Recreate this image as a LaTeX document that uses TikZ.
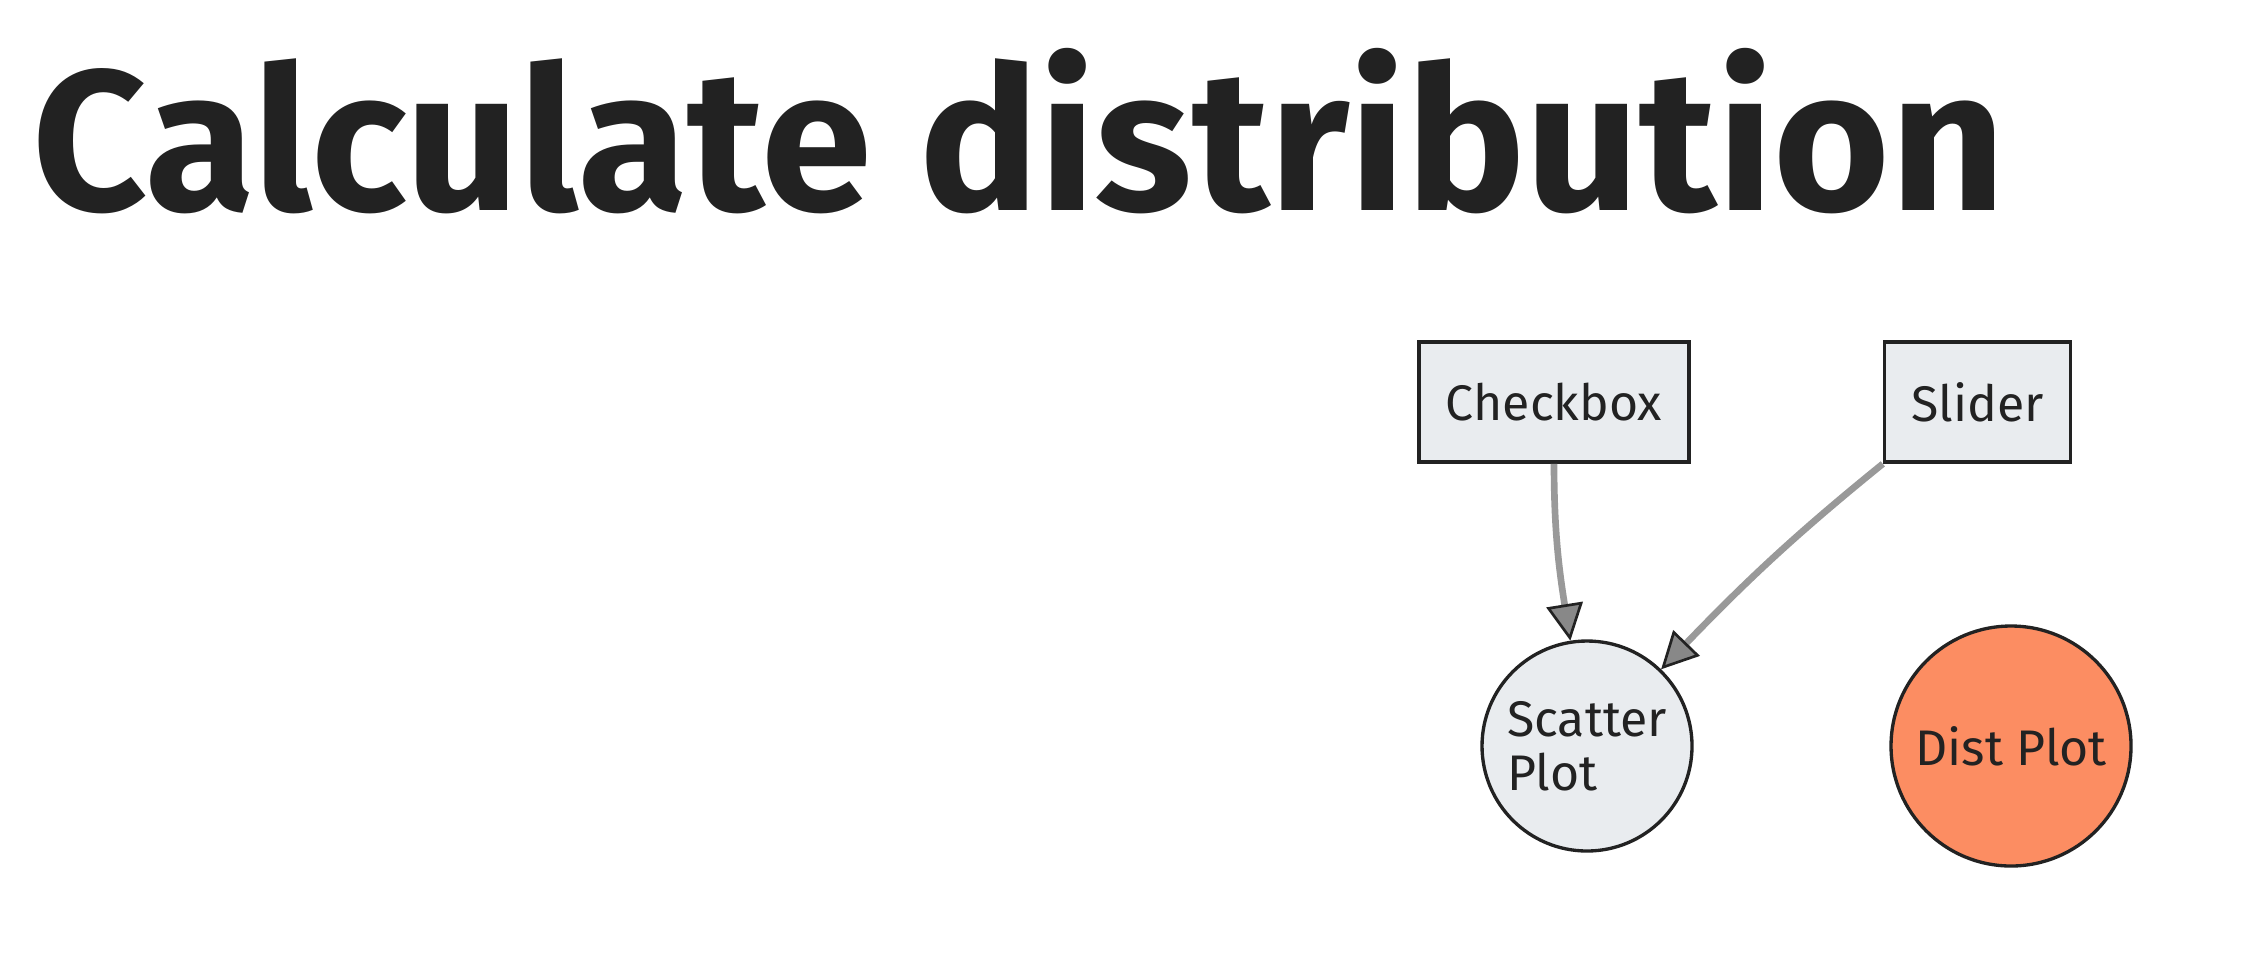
\documentclass[tikz,border=0pt]{standalone}
\usepackage{fontspec}
\setmainfont{Fira Sans}
\usepackage{tikz}
\usetikzlibrary{arrows.meta}
\definecolor{tinta}{HTML}{222222}
\definecolor{fondoNodo}{HTML}{E9ECEF}
\definecolor{coral}{HTML}{FC8D62}
\definecolor{lineaGris}{HTML}{999999}
\definecolor{puntaGris}{HTML}{888888}

\begin{document}
\begin{tikzpicture}[x=0.3pt, y=0.3pt,
    every node/.style={font=\fontsize{15}{16.2}\selectfont, text=tinta},
    caja/.style={draw=tinta, line width=1.1pt, fill=fondoNodo,
      inner xsep=8pt, minimum height=36pt},
    bola/.style={circle, draw=tinta, line width=1pt, inner sep=0pt},
    enlace/.style={lineaGris, line width=2pt,
      -{Triangle[length=11pt, width=11pt, color=tinta, fill=puntaGris, line width=0.8pt]}}]

  \def\XA{1554}    % Checkbox
  \def\XB{1977.5}  % Slider
  \def\XC{1587}    % Scatter Plot
  \def\XD{2011}    % Dist Plot

  \useasboundingbox (0,0) rectangle (2268,-968);

  % ── Título ────────────────────────────────────────────────
  \node[anchor=base west, inner sep=0pt,
        font=\fontsize{60}{64}\selectfont\bfseries] (titulo)
    at (32,-210) {Calculate distribution};

  % ── Entradas ──────────────────────────────────────────────
  \node[caja] (checkbox) at (\XA,-402) {Checkbox};
  \node[caja] (slider)   at (\XB,-402) {Slider};

  % ── Gráficas ──────────────────────────────────────────────
  \node[bola, fill=fondoNodo, minimum size=63pt, align=left] (scatter)
    at (\XC,-746) {Scatter\\Plot};
  \node[bola, fill=coral, minimum size=72pt] (dist)
    at (\XD,-746) {Dist Plot};

  % ── Enlaces ───────────────────────────────────────────────
  \draw[enlace] (checkbox.south) to[out=-90, in=99] (scatter);
  \draw[enlace] (slider.south west) to[out=-141, in=46] (scatter);

\end{tikzpicture}
\end{document}
